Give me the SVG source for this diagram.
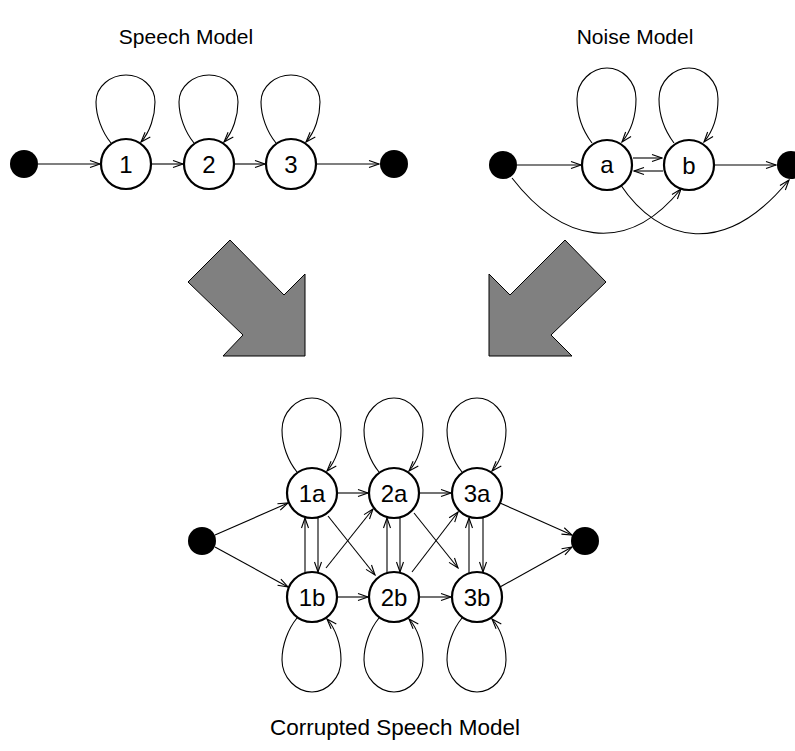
<svg xmlns="http://www.w3.org/2000/svg" width="795" height="751" viewBox="0 0 795 751">
<style>
.title{font-family:"Liberation Sans",Arial,sans-serif;font-size:21px;fill:#000;text-anchor:middle}
.title2{font-family:"Liberation Sans",Arial,sans-serif;font-size:22.5px;fill:#000;text-anchor:middle}
.lbl{font-family:"Liberation Sans",Arial,sans-serif;font-size:24px;fill:#000;text-anchor:middle}
.state{fill:#fff;stroke:#000;stroke-width:2.2}
.term{fill:#000;stroke:none}
.edge{fill:none;stroke:#000;stroke-width:1.1;marker-end:url(#ah)}
.big{fill:#808080;stroke:#000;stroke-width:1}
</style>
<defs>
<marker id="ah" markerUnits="userSpaceOnUse" viewBox="-11 -5 12 10" refX="0" refY="0" markerWidth="12" markerHeight="10" orient="auto">
<path d="M-10,-3.5 L0,0 L-10,3.5" fill="none" stroke="#000" stroke-width="1.1"/>
</marker>
</defs>

<text class="title" x="186" y="44">Speech Model</text>
<text class="title" x="635" y="44">Noise Model</text>
<text class="title2" x="395" y="735">Corrupted Speech Model</text>

<g id="connectors">
<!-- speech -->
<line class="edge" x1="38" y1="164" x2="100" y2="164"/>
<line class="edge" x1="151" y1="164" x2="183" y2="164"/>
<line class="edge" x1="234" y1="164" x2="265" y2="164"/>
<line class="edge" x1="316" y1="164" x2="379" y2="164"/>
<path class="edge" transform="translate(126,164)" d="M-15,-21 C-24,-32 -30,-48 -30,-62 C-30,-78 -15,-89 0,-89 C15,-89 29,-78 29,-62 C29,-48 24,-32 15,-22"/>
<path class="edge" transform="translate(209,164)" d="M-15,-21 C-24,-32 -30,-48 -30,-62 C-30,-78 -15,-89 0,-89 C15,-89 29,-78 29,-62 C29,-48 24,-32 15,-22"/>
<path class="edge" transform="translate(291,164)" d="M-15,-21 C-24,-32 -30,-48 -30,-62 C-30,-78 -15,-89 0,-89 C15,-89 29,-78 29,-62 C29,-48 24,-32 15,-22"/>
<!-- noise -->
<line class="edge" x1="517" y1="165" x2="581" y2="165"/>
<line class="edge" x1="633" y1="158" x2="662" y2="158"/>
<line class="edge" x1="663" y1="171" x2="634" y2="171"/>
<line class="edge" x1="715" y1="165" x2="776" y2="165"/>
<path class="edge" d="M512,178 C560,240 625,258 681,189"/>
<path class="edge" d="M620,184 C660,244 725,258 789,180"/>
<path class="edge" transform="translate(607,165)" d="M-15,-22 C-24,-34 -30,-50 -30,-66 C-30,-84 -15,-97 0,-97 C15,-97 29,-84 29,-66 C29,-50 24,-34 15,-23"/>
<path class="edge" transform="translate(689,165)" d="M-15,-22 C-24,-34 -30,-50 -30,-66 C-30,-84 -15,-97 0,-97 C15,-97 29,-84 29,-66 C29,-50 24,-34 15,-23"/>
<!-- corrupted -->
<line class="edge" x1="215" y1="535" x2="288" y2="503"/>
<line class="edge" x1="215" y1="547" x2="288" y2="587"/>
<line class="edge" x1="337" y1="493" x2="368" y2="493"/>
<line class="edge" x1="419" y1="493" x2="451" y2="493"/>
<line class="edge" x1="337" y1="597" x2="368" y2="597"/>
<line class="edge" x1="419" y1="597" x2="451" y2="597"/>
<line class="edge" x1="500" y1="503" x2="572" y2="535"/>
<line class="edge" x1="500" y1="587" x2="572" y2="547"/>
<line class="edge" x1="305" y1="573" x2="305" y2="518"/>
<line class="edge" x1="318" y1="517" x2="318" y2="572"/>
<line class="edge" x1="387" y1="573" x2="387" y2="518"/>
<line class="edge" x1="400" y1="517" x2="400" y2="572"/>
<line class="edge" x1="469" y1="573" x2="469" y2="518"/>
<line class="edge" x1="483" y1="517" x2="483" y2="572"/>
<line class="edge" x1="328" y1="516" x2="375" y2="575"/>
<line class="edge" x1="326" y1="568" x2="373" y2="509"/>
<line class="edge" x1="414" y1="513" x2="458" y2="568"/>
<line class="edge" x1="412" y1="572" x2="458" y2="512"/>
<path class="edge" transform="translate(312,493)" d="M-15,-21 C-24,-32 -30,-48 -30,-63 C-30,-81 -15,-95 0,-95 C15,-95 29,-81 29,-63 C29,-48 24,-32 15,-22"/>
<path class="edge" transform="translate(394,493)" d="M-15,-21 C-24,-32 -30,-48 -30,-63 C-30,-81 -15,-95 0,-95 C15,-95 29,-81 29,-63 C29,-48 24,-32 15,-22"/>
<path class="edge" transform="translate(477,493)" d="M-15,-21 C-24,-32 -30,-48 -30,-63 C-30,-81 -15,-95 0,-95 C15,-95 29,-81 29,-63 C29,-48 24,-32 15,-22"/>
<path class="edge" transform="translate(312,597)" d="M-15,21 C-24,32 -30,48 -30,63 C-30,81 -15,95 0,95 C15,95 29,81 29,63 C29,48 24,32 15,22"/>
<path class="edge" transform="translate(394,597)" d="M-15,21 C-24,32 -30,48 -30,63 C-30,81 -15,95 0,95 C15,95 29,81 29,63 C29,48 24,32 15,22"/>
<path class="edge" transform="translate(477,597)" d="M-15,21 C-24,32 -30,48 -30,63 C-30,81 -15,95 0,95 C15,95 29,81 29,63 C29,48 24,32 15,22"/>
</g>

<g id="big-arrows">
<polygon class="big" points="230,240 284,295 305,274 305,356 223,356 243,335 188,282"/>
<polygon class="big" points="565,240 606,282 551,335 572,356 489,356 489,274 510,295"/>
</g>

<g id="s-start"><circle class="term" cx="24" cy="164" r="14"/></g>
<g id="s-1"><circle class="state" cx="126" cy="164" r="25"/><text class="lbl" x="126" y="172.5">1</text></g>
<g id="s-2"><circle class="state" cx="209" cy="164" r="25"/><text class="lbl" x="209" y="172.5">2</text></g>
<g id="s-3"><circle class="state" cx="291" cy="164" r="25"/><text class="lbl" x="291" y="172.5">3</text></g>
<g id="s-end"><circle class="term" cx="394" cy="164" r="14"/></g>

<g id="n-start"><circle class="term" cx="503" cy="165" r="14"/></g>
<g id="n-a"><circle class="state" cx="607" cy="165" r="25"/><text class="lbl" x="607" y="173">a</text></g>
<g id="n-b"><circle class="state" cx="689" cy="165" r="25"/><text class="lbl" x="689" y="173.5">b</text></g>
<g id="n-end"><circle class="term" cx="791" cy="165" r="14"/></g>

<g id="c-start"><circle class="term" cx="202" cy="541" r="14"/></g>
<g id="c-1a"><circle class="state" cx="312" cy="493" r="25"/><text class="lbl" x="312" y="501.5">1a</text></g>
<g id="c-2a"><circle class="state" cx="394" cy="493" r="25"/><text class="lbl" x="394" y="501.5">2a</text></g>
<g id="c-3a"><circle class="state" cx="477" cy="493" r="25"/><text class="lbl" x="477" y="501.5">3a</text></g>
<g id="c-1b"><circle class="state" cx="312" cy="597" r="25"/><text class="lbl" x="312" y="605.5">1b</text></g>
<g id="c-2b"><circle class="state" cx="394" cy="597" r="25"/><text class="lbl" x="394" y="605.5">2b</text></g>
<g id="c-3b"><circle class="state" cx="477" cy="597" r="25"/><text class="lbl" x="477" y="605.5">3b</text></g>
<g id="c-end"><circle class="term" cx="585" cy="541" r="14"/></g>
</svg>
